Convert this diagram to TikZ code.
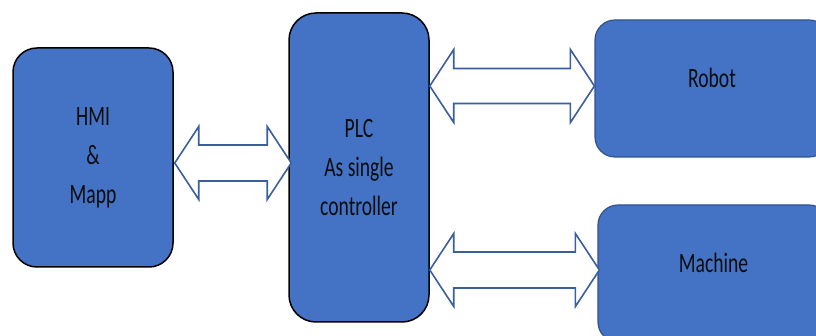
\documentclass[tikz,border=0pt]{standalone}
\usepackage{fontspec}
\setmainfont{Carlito}[FakeStretch=0.7]
\usetikzlibrary{calc}
\definecolor{boxfill}{HTML}{4472C4}
\definecolor{boxedge}{HTML}{2F528F}
\definecolor{arrowedge}{HTML}{3B5E9C}
\tikzset{
  unitbox/.style={draw=black, line width=1.5pt, fill=boxfill, rounded corners=24pt,
    inner sep=0pt, align=center, font=\fontsize{28}{39}\selectfont, text=black!95},
  sidebox/.style={unitbox, draw=boxedge, line width=1.2pt, rounded corners=20pt},
  boxlabel/.style={inner sep=0pt, font=\fontsize{28}{39}\selectfont, text=black!95},
  arrowline/.style={draw=arrowedge, line width=1.6pt, fill=white, line join=miter}
}
% hollow two-headed block arrow between two tips:
% #1 left tip, #2 right tip, #3 head length, #4 half head height, #5 half shaft height
\newcommand\blockarrow[5]{%
  \draw[arrowline] (#1) -- ++(#3,-#4) -- ++(0,#4-#5) -- ($(#2)+(-#3,-#5)$)
    -- ++(0,-#4+#5) -- (#2) -- ++(-#3,#4) -- ++(0,-#4+#5)
    -- ($(#1)+(#3,#5)$) -- ++(0,#4-#5) -- cycle;}
\begin{document}
\begin{tikzpicture}[x=1pt,y=-1pt]
  \useasboundingbox (0,0) rectangle (816,336);
  \clip (0,0) rectangle (816,336);
  % units
  \node[unitbox, minimum width=160pt, minimum height=219pt] (hmi) at (93,157.5)
    {HMI\\\&\\Mapp};
  \node[unitbox, rounded corners=27pt, minimum width=140pt, minimum height=309pt] (plc) at (359,167.5)
    {PLC\\As single\\controller};
  \node[sidebox, minimum width=234pt, minimum height=137pt] (robot) at (712,88.5) {};
  \node[sidebox, minimum width=231pt, minimum height=137pt] (machine) at (713.5,273.5) {};
  \node[boxlabel] (robotlabel) at ($(robot.center)+(0,-11)$) {Robot};
  \node[boxlabel] (machinelabel) at ($(machine.center)+(0,-11)$) {Machine};
  % arrow levels
  \coordinate (lvA) at (0,163);
  \coordinate (lvB) at (0,86);
  \coordinate (lvC) at (0,270);
  % links
  \coordinate (a1) at ($(hmi.east |- lvA)+(1,0)$);
  \coordinate (a2) at ($(plc.west |- lvA)+(3,0)$);
  \blockarrow{a1}{a2}{24}{36.5}{18}
  \coordinate (b1) at (plc.east |- lvB);
  \coordinate (b2) at (robot.west |- lvB);
  \blockarrow{b1}{b2}{24}{36.5}{17.5}
  \coordinate (c1) at (plc.east |- lvC);
  \coordinate (c2) at ($(machine.west |- lvC)+(2,0)$);
  \blockarrow{c1}{c2}{24}{36.5}{18}
\end{tikzpicture}
\end{document}
